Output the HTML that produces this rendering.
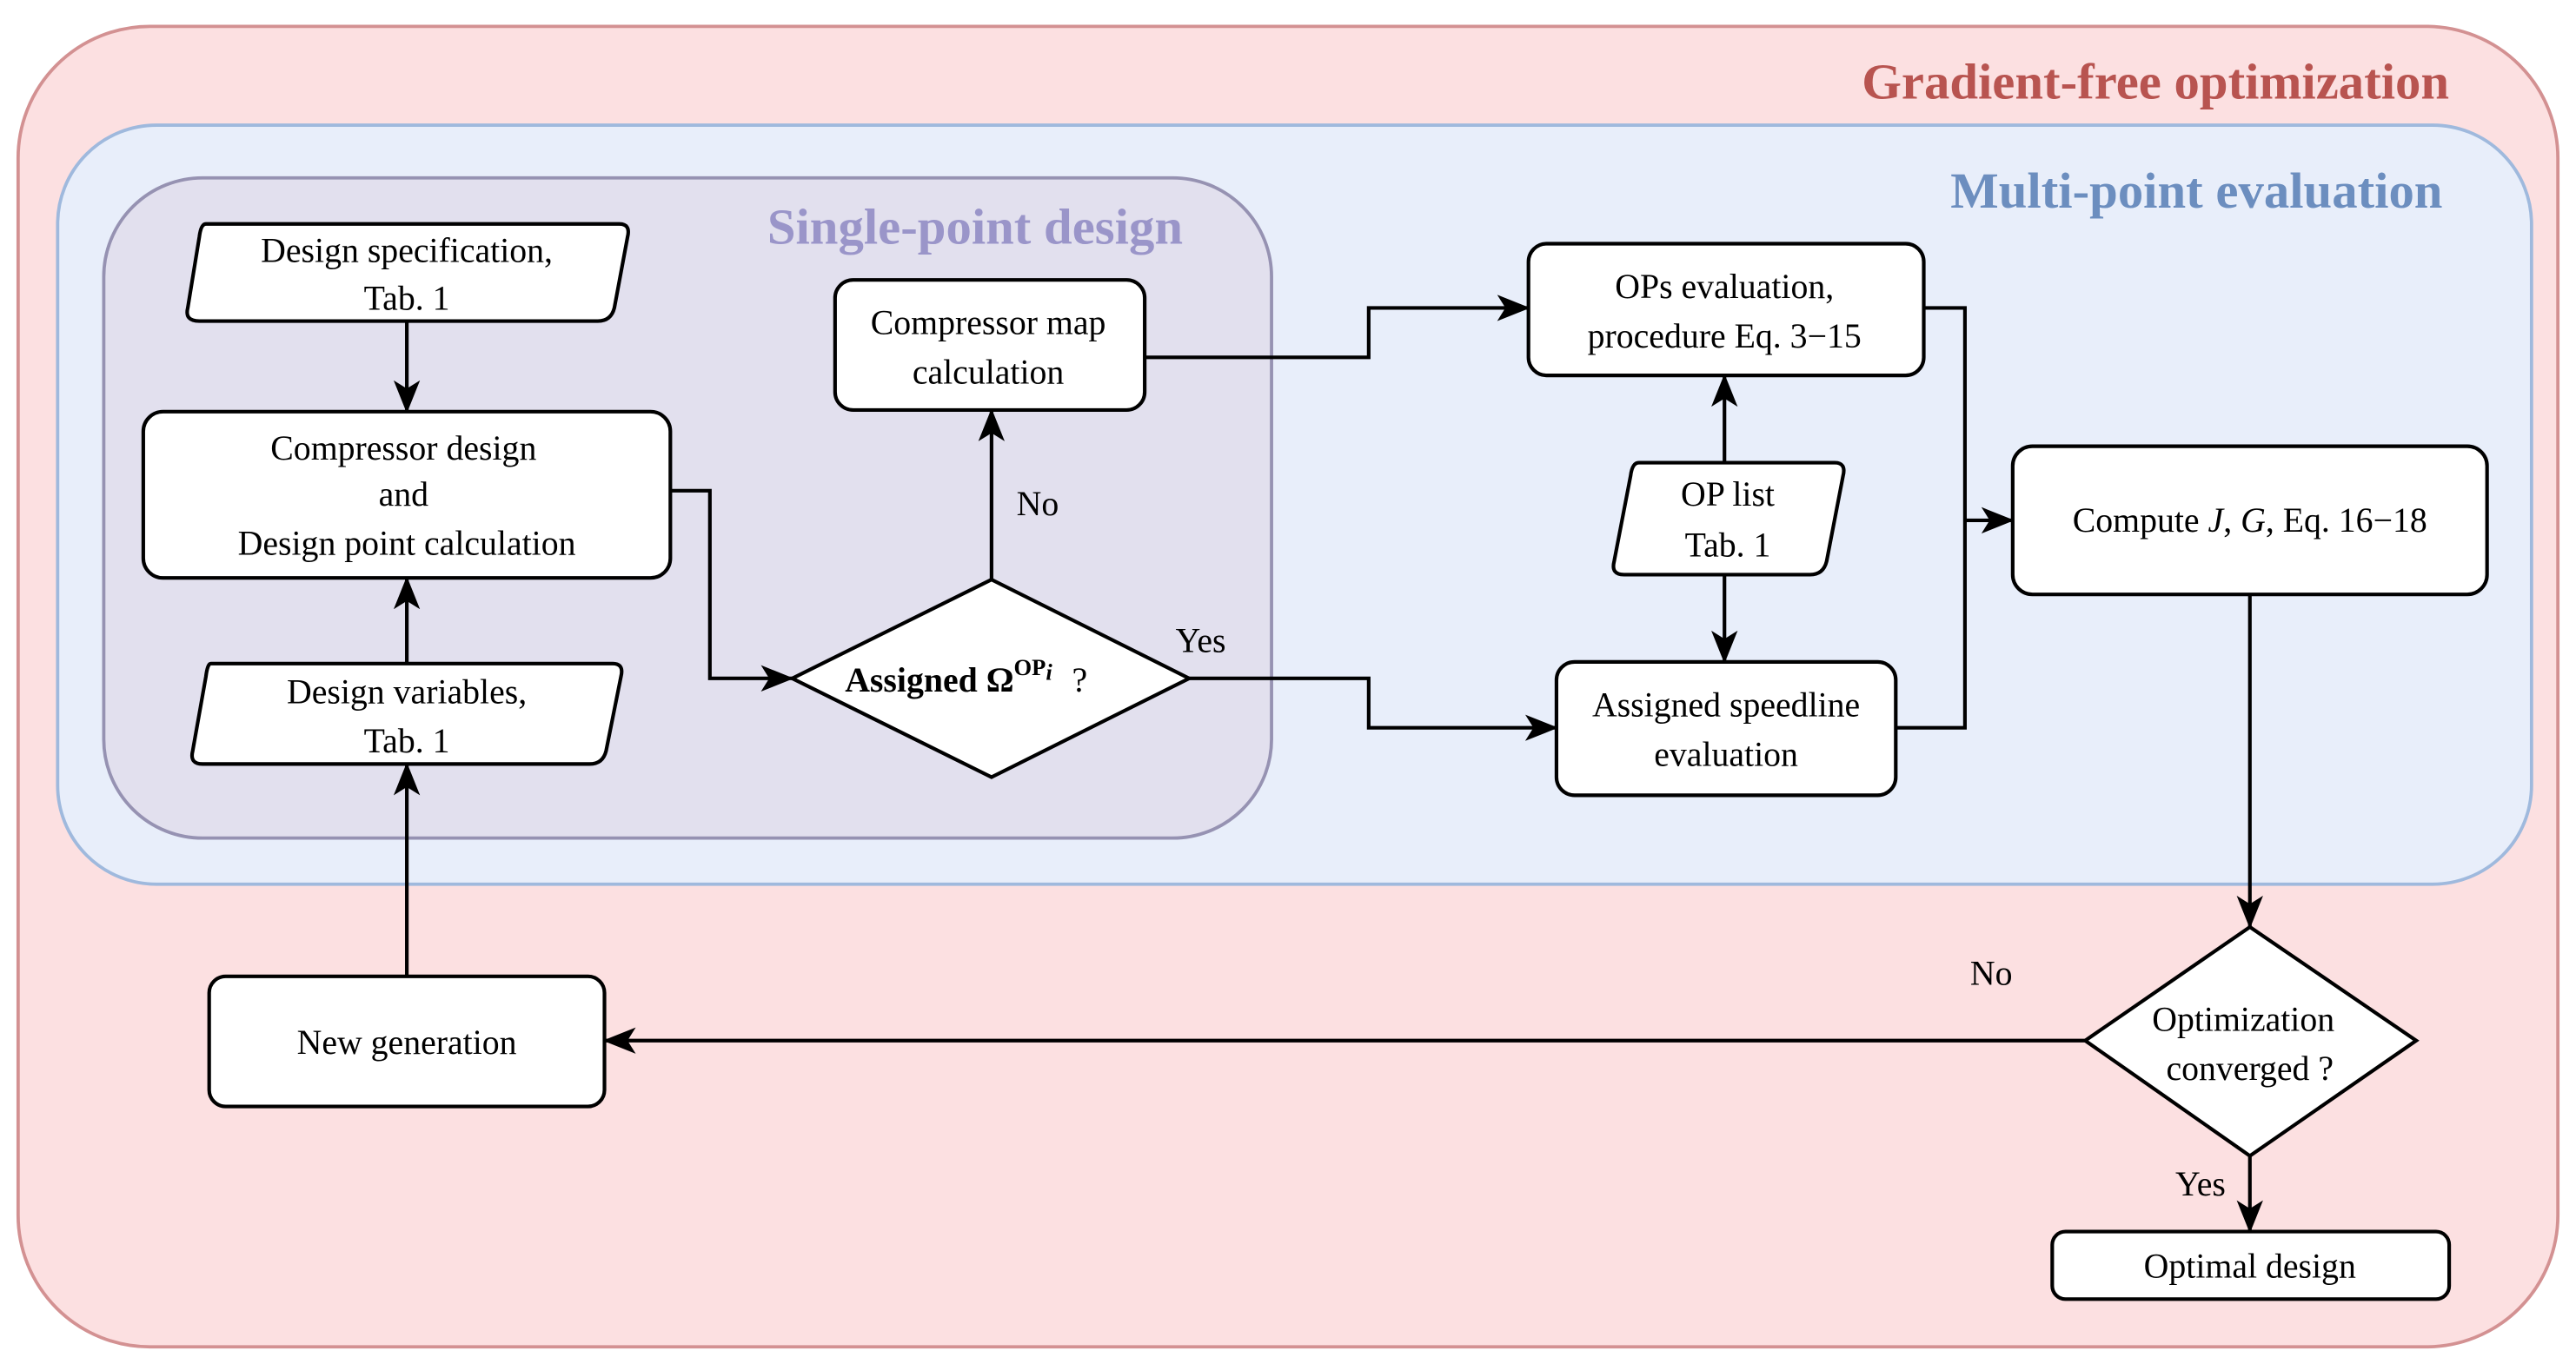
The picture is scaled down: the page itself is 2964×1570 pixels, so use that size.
<!DOCTYPE html>
<html><head><meta charset="utf-8"><style>
html,body{margin:0;padding:0;background:#fff;}
svg{display:block;font-family:"Liberation Serif","Times New Roman","DejaVu Serif",serif;}
svg text{font-family:"Liberation Serif","Times New Roman","DejaVu Serif",serif;fill:#000;}
</style></head><body>
<svg width="2964" height="1570" viewBox="0 0 1564 828.4" xmlns="http://www.w3.org/2000/svg" font-family="Liberation Serif, Times New Roman, DejaVu Serif, serif">
<defs>
<marker id="a" viewBox="0 0 20 16" refX="19" refY="8" markerWidth="20" markerHeight="16" markerUnits="userSpaceOnUse" orient="auto">
<path d="M0,0 L20,8 L0,16 L5,8 Z" fill="#000"/>
</marker>
</defs>
<rect x="11" y="16" width="1542" height="802" rx="80" fill="#fce0e1" stroke="#d39192" stroke-width="2"/>
<text x="1487" y="60" text-anchor="end" font-size="31" font-weight="bold" style="fill:#b85450">Gradient-free optimization</text>
<rect x="35" y="76" width="1502" height="461" rx="60" fill="#e8eefa" stroke="#9fb9dd" stroke-width="2"/>
<text x="1483" y="126" text-anchor="end" font-size="31" font-weight="bold" style="fill:#6c8ebf">Multi-point evaluation</text>
<rect x="63" y="108" width="709" height="401" rx="60" fill="#e2e0ee" stroke="#9692b2" stroke-width="2"/>
<text x="592" y="148" text-anchor="middle" font-size="31" font-weight="bold" style="fill:#9a95c9">Single-point design</text>

<g fill="#fff" stroke="#000" stroke-width="2.2">
<path d="M125,136 H376 Q383,136 381,144 L373,187 Q371,195 363,195 H121 Q112,195 114,187 L121,144 Q122,136 125,136 Z"/>
<rect x="87" y="250" width="320" height="101" rx="12"/>
<path d="M128,403 H372 Q379,403 377,411 L368,456 Q366,464 358,464 H123 Q115,464 117,456 L125,411 Q126,403 128,403 Z"/>
<rect x="127" y="593" width="240" height="79" rx="10"/>
<rect x="507" y="170" width="188" height="79" rx="11"/>
<path d="M602,352 L722,412 L602,472 L481,412 Z"/>
<rect x="928" y="148" width="240" height="80" rx="11"/>
<path d="M995,281 H1114 Q1121,281 1119,289 L1109,341 Q1107,349 1099,349 H986 Q978,349 980,341 L990,289 Q991,281 995,281 Z"/>
<rect x="945" y="402" width="206" height="81" rx="11"/>
<rect x="1222" y="271" width="288" height="90" rx="12"/>
<path d="M1366,563 L1467,632 L1366,702 L1266,632 Z"/>
<rect x="1246" y="748" width="241" height="41" rx="8"/>
</g>

<g fill="none" stroke="#000" stroke-width="2.2" marker-end="url(#a)">
<path d="M247,195 V250"/>
<path d="M247,403 V351"/>
<path d="M247,593 V464"/>
<path d="M407,298 H431 V412 H481"/>
<path d="M602,352 V249"/>
<path d="M695,217 H831 V187 H928"/>
<path d="M722,412 H831 V442 H945"/>
<path d="M1047,281 V228"/>
<path d="M1047,349 V402"/>
<path d="M1193,316 H1222"/>
<path d="M1366,361 V563"/>
<path d="M1266,632 H367"/>
<path d="M1366,702 V748"/>
</g>
<path d="M1168,187 H1193 V442 H1151" fill="none" stroke="#000" stroke-width="2.2"/>

<g font-size="21" text-anchor="middle">
<text x="247" y="159">Design specification,</text>
<text x="247" y="188">Tab. 1</text>
<text x="245" y="279">Compressor design</text>
<text x="245" y="307">and</text>
<text x="247" y="337">Design point calculation</text>
<text x="247" y="427">Design variables,</text>
<text x="247" y="457">Tab. 1</text>
<text x="247" y="640">New generation</text>
<text x="600" y="203">Compressor map</text>
<text x="600" y="233">calculation</text>
<text x="1047" y="181">OPs evaluation,</text>
<text x="1047" y="211">procedure Eq. 3−15</text>
<text x="1049" y="307">OP list</text>
<text x="1049" y="338">Tab. 1</text>
<text x="1048" y="435">Assigned speedline</text>
<text x="1048" y="465">evaluation</text>
<text x="1366" y="323">Compute <tspan font-style="italic">J</tspan>, <tspan font-style="italic">G</tspan>, Eq. 16−18</text>
<text x="1362" y="626">Optimization</text>
<text x="1366" y="656">converged  ?</text>
<text x="1366" y="776">Optimal design</text>
<text x="630" y="313">No</text>
<text x="729" y="396">Yes</text>
<text x="1209" y="598">No</text>
<text x="1336" y="726">Yes</text>
</g>
<text x="513" y="420" font-size="21" font-weight="bold">Assigned Ω<tspan font-size="14" dy="-10">OP</tspan><tspan font-size="14" font-style="italic" dy="3">i</tspan><tspan dx="12" dy="7" font-weight="normal">?</tspan></text>
</svg>
</body></html>
